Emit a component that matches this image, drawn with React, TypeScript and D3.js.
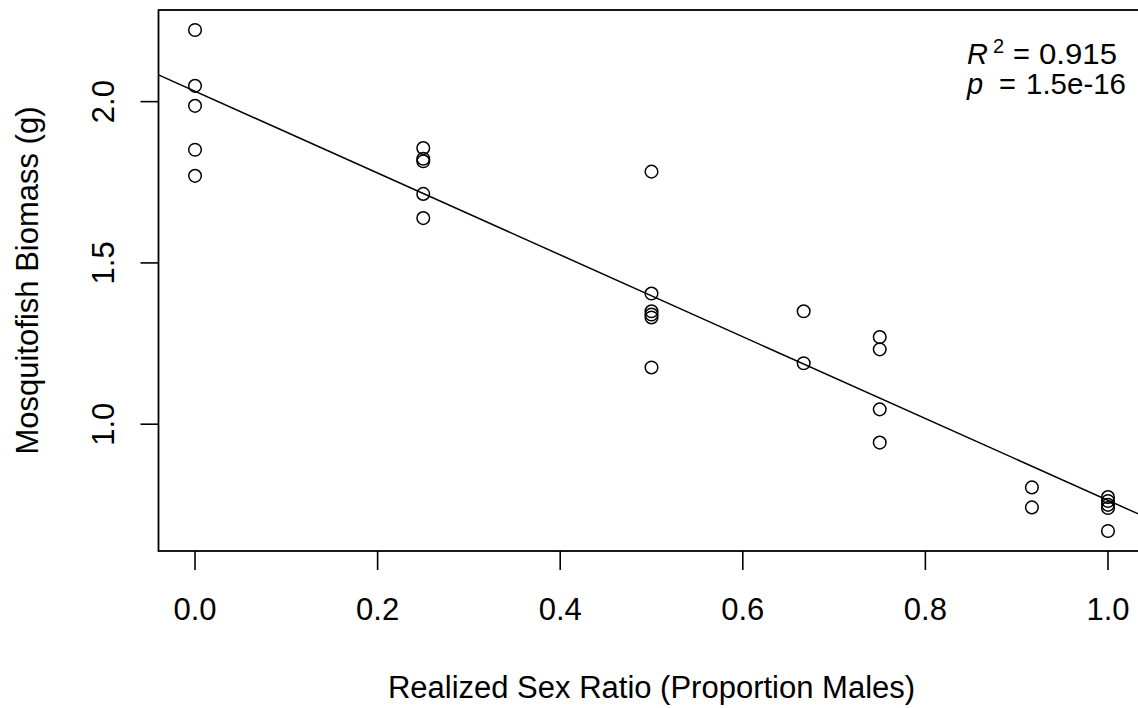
import * as d3 from "d3";
import React from "react";

// realized sex ratio groups and biomass readings for each group
const ratioGroups = [0, 0.25, 0.5, 2 / 3, 0.75, 11 / 12, 1];
const biomassByGroup = [
  [2.222, 2.049, 1.987, 1.851, 1.77],
  [1.856, 1.823, 1.815, 1.714, 1.639],
  [1.783, 1.405, 1.35, 1.34, 1.331, 1.176],
  [1.35, 1.189],
  [1.27, 1.232, 1.046, 0.943],
  [0.804, 0.742],
  [0.774, 0.762, 0.75, 0.74, 0.669],
];
const xTicks = [0, 0.2, 0.4, 0.6, 0.8, 1.0];
const yTicks = [1.0, 1.5, 2.0];
const statR2 = "0.915";
const statP = "1.5e-16";

const W = 1138, H = 708;
const font = "'Liberation Sans', Arial, sans-serif";
const fs = 31;

const App = () => {
  const points = ratioGroups.flatMap((x, i) => biomassByGroup[i].map((y) => ({ x, y })));

  // R style axis range: data range padded 4% on each side
  const pad = (ext) => {
    const r = ext[1] - ext[0];
    return [ext[0] - 0.04 * r, ext[1] + 0.04 * r];
  };
  const xScale = d3.scaleLinear().domain(pad(d3.extent(points, (d) => d.x))).range([158.5, 1144.5]);
  const yScale = d3.scaleLinear().domain(pad(d3.extent(points, (d) => d.y))).range([551, 10]);

  // least squares fit
  const mx = d3.mean(points, (d) => d.x), my = d3.mean(points, (d) => d.y);
  const sxy = d3.sum(points, (d) => (d.x - mx) * (d.y - my));
  const sxx = d3.sum(points, (d) => (d.x - mx) ** 2);
  const slope = sxy / sxx, icpt = my - slope * mx;
  const [x0, x1] = xScale.domain();
  const fitLine = d3.line().x((d) => xScale(d[0])).y((d) => yScale(d[1]))([
    [x0, icpt + slope * x0],
    [x1, icpt + slope * x1],
  ]);

  const [left, right] = xScale.range();
  const [bottom, top] = yScale.range();
  const fmt = d3.format(".1f");

  return (
    <svg width={W} height={H} style={{ position: "absolute", left: 0, top: 0, background: "#fff" }}
      fontFamily={font} fontSize={fs}>
      <rect x={left} y={top} width={right - left} height={bottom - top} fill="none" stroke="#000" strokeWidth={1.8} />

      {/* x axis */}
      {xTicks.map((t) => (
        <g key={t}>
          <line x1={xScale(t)} x2={xScale(t)} y1={bottom} y2={bottom + 19} stroke="#000" strokeWidth={1.6} />
          <text x={xScale(t)} y={620} textAnchor="middle">{fmt(t)}</text>
        </g>
      ))}
      <text x={(left + right) / 2} y={698} textAnchor="middle">Realized Sex Ratio (Proportion Males)</text>

      {/* y axis */}
      {yTicks.map((t) => (
        <g key={t}>
          <line x1={left - 18} x2={left} y1={yScale(t)} y2={yScale(t)} stroke="#000" strokeWidth={1.6} />
          <text transform={`translate(114,${yScale(t)}) rotate(-90)`} textAnchor="middle">{fmt(t)}</text>
        </g>
      ))}
      <text transform={`translate(38,${(top + bottom) / 2}) rotate(-90)`} textAnchor="middle">
        Mosquitofish Biomass (g)
      </text>

      {/* fit */}
      <path d={fitLine} fill="none" stroke="#000" strokeWidth={1.5} />

      {/* points */}
      {points.map((d, i) => (
        <circle key={i} cx={xScale(d.x)} cy={yScale(d.y)} r={6.3} fill="none" stroke="#000" strokeWidth={1.5} />
      ))}

      {/* stats */}
      <g fontSize={29}>
        <text x={967} y={64} fontStyle="italic">R</text>
        <text x={993} y={53} fontSize={20}>2</text>
        <text x={1013} y={64}>=</text>
        <text x={1039} y={64} textLength={78} lengthAdjust="spacingAndGlyphs">{statR2}</text>
        <text x={967} y={94} fontStyle="italic">p</text>
        <text x={999} y={94}>=</text>
        <text x={1026} y={94} textLength={100} lengthAdjust="spacingAndGlyphs">{statP}</text>
      </g>
    </svg>
  );
};

export default App;
